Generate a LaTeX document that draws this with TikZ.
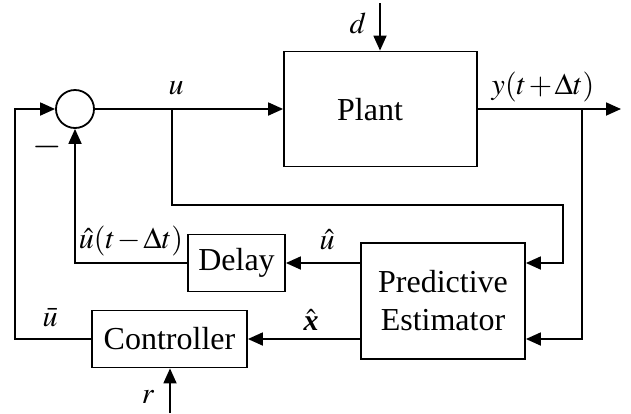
\documentclass[tikz,border=0pt]{standalone}
\usepackage{mathptmx}
\usepackage{fontspec}
\setmainfont{Liberation Serif}
\usetikzlibrary{arrows.meta}
\newcommand{\tightmath}{\medmuskip=1.5mu\relax}
\begin{document}
\tightmath
\begin{tikzpicture}[x=1pt,y=-1pt,
  line width=1.8pt,
  every node/.style={font=\fontsize{32}{38}\selectfont},
  blk/.style={draw,line width=1.8pt,inner sep=0pt},
  lbl/.style={inner sep=0pt,font=\fontsize{30}{36}\selectfont},
  arr/.style={-{Triangle[length=15pt,width=13pt]}}]
\useasboundingbox (0,0) rectangle (631,413);
% blocks
\node[blk,minimum width=193pt,minimum height=115pt] (plant) at (380.5,109) {};
\node[inner sep=0pt] (plantlbl) at (370,110) {Plant};
\node[blk,circle,minimum size=38pt] (sum) at (75,109) {};
\node[blk,minimum width=97pt,minimum height=57pt] (delay) at (236.5,263) {Delay};
\node[blk,minimum width=164pt,minimum height=116pt,align=center] (est) at (443,301) {Predictive\\Estimator};
\node[blk,minimum width=155pt,minimum height=57pt] (ctrl) at (169.5,339) {Controller};
% coordinates
\coordinate (bu) at (172,109);
\coordinate (c1) at (563,205);
\coordinate (yo) at (582,109);
\coordinate (yend) at (621,109);
\coordinate (fb) at (15,200);
\coordinate (din) at (380,3);
\coordinate (rin) at (170,413);
% connectors
\draw[arr] (sum.east) -- (plant.west);
\draw[arr] (plant.east) -- (yend);
\draw[arr] (yo) |- ([yshift=-38pt]est.east);
\draw[arr] (bu) |- (c1) |- ([yshift=38pt]est.east);
\draw[arr] ([yshift=38pt]est.west) -- (delay.east);
\draw[arr] (delay.west) -| (sum.south);
\draw[arr] ([yshift=-38pt]est.west) -- (ctrl.east);
\draw[arr] (ctrl.west) -| (fb) |- (sum.west);
\draw[arr] (din) -- (din |- plant.north);
\draw[arr] (rin) -- (rin |- ctrl.south);
% labels
\node[lbl] (ld) at (358,23) {$d$};
\node[lbl] (lu) at (176,88) {$u$};
\node[lbl] (ly) at (543,87) {$y(t+\Delta t)$};
\node[lbl] (luh) at (327,240) {$\hat u$};
\node[lbl] (lud) at (131,241) {$\hat u(t-\Delta t)$};
\node[lbl] (lub) at (50,318) {$\bar u$};
\node[lbl] (lx) at (311,320) {$\hat{\textbf{\textit{x}}}$};
\node[lbl] (lr) at (148,397) {$r$};
\node[lbl,font=\fontsize{38}{40}\selectfont] (lm) at (47,147) {$-$};
\end{tikzpicture}
\end{document}
